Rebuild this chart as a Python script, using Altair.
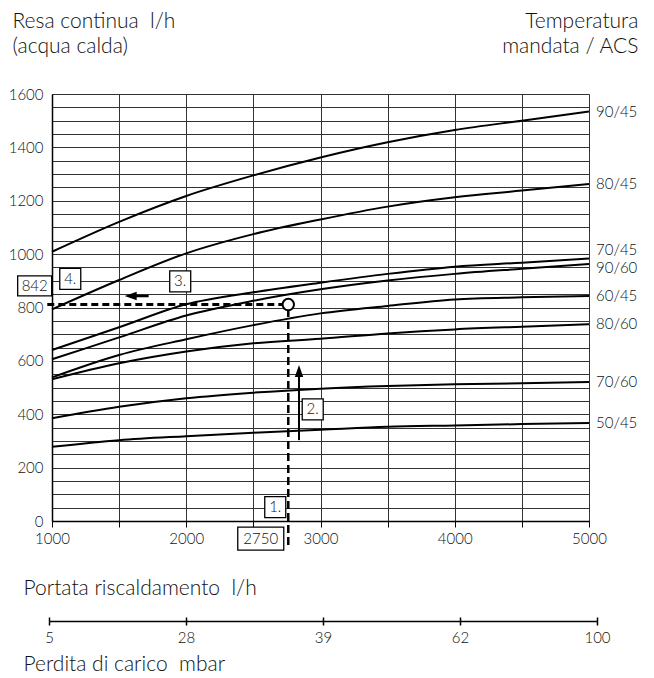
import altair as alt
import pandas as pd

# ---------------- data ----------------
flow = [1000, 1500, 2000, 2500, 3000, 3500, 4000, 4500, 5000]
series_names = ["90/45", "80/45", "70/45", "90/60", "60/45", "80/60", "70/60", "50/45"]
v_90_45 = [1009, 1121, 1218, 1295, 1362, 1419, 1465, 1500, 1534]
v_80_45 = [793, 903, 1003, 1075, 1130, 1178, 1213, 1238, 1263]
v_70_45 = [641, 726, 812, 857, 893, 926, 953, 968, 984]
v_90_60 = [606, 688, 770, 825, 868, 901, 926, 945, 963]
v_60_45 = [538, 622, 681, 734, 778, 806, 830, 838, 843]
v_80_60 = [531, 591, 635, 666, 683, 703, 718, 728, 737]
v_70_60 = [385, 428, 460, 481, 496, 506, 512, 516, 521]
v_50_45 = [278, 303, 318, 331, 342, 353, 358, 363, 367]
series_values = [v_90_45, v_80_45, v_70_45, v_90_60, v_60_45, v_80_60, v_70_60, v_50_45]

pressure_labels = ["5", "28", "39", "62", "100"]

# worked example
example_flow = 2760
example_output = 811
example_label_flow = "2750"
example_label_output = "842"
arrow_up_flow = 2840
arrow_up_from, arrow_up_to = 303, 565
arrow_up_head = 562
arrow_left_level = 843
arrow_left_head, arrow_left_end = 1586, 1720
dash_h_start = 965
dash_v_end = -90

step_labels = ["1.", "2.", "3.", "4."]
step_flow = [2663, 2942, 1955, 1136]
step_value = [52, 418, 898, 907]
box842_flow, box842_value = 871, 881
box2750_flow, box2750_value = 2555, -66

FONT = "Lato"
NB = "\u00a0"
TITLE_SIZE = 21
W = 300

rows = []
for name, vals in zip(series_names, series_values):
    for f, v in zip(flow, vals):
        rows.append({"series": name, "flow": f, "value": v})
df = pd.DataFrame(rows)
df_end = df[df["flow"] == flow[-1]]

XS = alt.Scale(domain=[1000, 5000], nice=False, zero=False)
YS = alt.Scale(domain=[0, 1600], nice=False, zero=False)


def X(field="flow", axis=None):
    return alt.X(f"{field}:Q", scale=XS, axis=axis)


def Y(field="value", axis=None):
    return alt.Y(f"{field}:Q", scale=YS, axis=axis)


x_axis = alt.Axis(
    values=flow,
    labelExpr="datum.value % 1000 === 0 ? datum.label : ''",
    format="d",
    labelFlush=False,
    labelFontSize=15,
    labelFontWeight=W,
    labelPadding=4,
    labelColor="#111",
    tickSize=6,
    tickColor="black",
    tickWidth=1,
    grid=True,
    gridColor="#333",
    gridWidth=1,
    domainColor="black",
    domainWidth=1.5,
    title="Portata riscaldamento" + " " + NB + "l/h",
    titleX=-29,
    titleY=73,
    titleAlign="left",
    titleAnchor="start",
    titleBaseline="alphabetic",
    titleFontSize=TITLE_SIZE,
    titleFontWeight=W,
    titleColor="#111",
)

y_axis = alt.Axis(
    values=list(range(0, 1601, 50)),
    labelExpr="datum.value % 200 === 0 ? datum.label : ''",
    format="d",
    labelFlush=False,
    labelFontSize=15,
    labelFontWeight=W,
    labelPadding=9,
    labelColor="#111",
    tickSize=0,
    grid=True,
    gridColor="#333",
    gridWidth=1,
    domainColor="black",
    domainWidth=1.5,
    title=["Resa continua" + " " + NB + "l/h", "(acqua calda)"],
    titleAngle=0,
    titleX=-40,
    titleY=-67,
    titleAlign="left",
    titleBaseline="alphabetic",
    titleLineHeight=25,
    titleFontSize=TITLE_SIZE,
    titleFontWeight=W,
    titleColor="#111",
)

y_axis_right = alt.Axis(
    orient="right",
    labels=False,
    ticks=False,
    domain=False,
    grid=False,
    title=["Temperatura", "mandata / ACS"],
    titleAngle=0,
    titleX=49,
    titleY=-67,
    titleAlign="right",
    titleBaseline="alphabetic",
    titleLineHeight=25,
    titleFontSize=TITLE_SIZE,
    titleFontWeight=W,
    titleColor="#111",
)

curves = alt.Chart(df).mark_line(
    interpolate="monotone", color="black", strokeWidth=2
).encode(x=X(axis=x_axis), y=Y(axis=y_axis), detail="series:N")

lab_common = dict(align="left", baseline="middle", dx=7, fontSize=15, fontWeight=W, font=FONT, color="#111")
labels_main = alt.Chart(df_end).mark_text(**lab_common).encode(
    x=X(), y=Y(axis=y_axis_right), text="series:N"
).transform_filter("datum.series !== '70/45' && datum.series !== '90/60'")
labels_up = alt.Chart(df_end).mark_text(dy=-8, **lab_common).encode(
    x=X(), y=Y(), text="series:N"
).transform_filter("datum.series === '70/45'")
labels_down = alt.Chart(df_end).mark_text(dy=4, **lab_common).encode(
    x=X(), y=Y(), text="series:N"
).transform_filter("datum.series === '90/60'")

# dashed guide lines of the worked example
dash_h = alt.Chart(pd.DataFrame({"x0": [dash_h_start], "x1": [example_flow], "y": [example_output]})).mark_rule(
    color="black", strokeWidth=3, strokeDash=[7, 4]
).encode(x=X("x0"), x2="x1:Q", y=Y("y"))
dash_v = alt.Chart(pd.DataFrame({"x": [example_flow], "y0": [dash_v_end], "y1": [example_output]})).mark_rule(
    color="black", strokeWidth=2.5, strokeDash=[8, 4]
).encode(x=X("x"), y=Y("y0"), y2="y1:Q")
circle = alt.Chart(pd.DataFrame({"x": [example_flow], "y": [example_output]})).mark_point(
    shape="circle", size=130, filled=True, fill="white", stroke="black", strokeWidth=2, opacity=1
).encode(x=X("x"), y=Y("y"))

# arrows
up_shaft = alt.Chart(pd.DataFrame({"x": [arrow_up_flow], "y0": [arrow_up_from], "y1": [arrow_up_to]})).mark_rule(
    color="black", strokeWidth=2
).encode(x=X("x"), y=Y("y0"), y2="y1:Q")
up_head = alt.Chart(pd.DataFrame({"x": [arrow_up_flow], "y": [arrow_up_head]})).mark_point(
    shape="M0,-1L0.7,1L-0.7,1Z", size=144, filled=True, color="black", opacity=1
).encode(x=X("x"), y=Y("y"))
left_shaft = alt.Chart(pd.DataFrame({"x0": [arrow_left_head], "x1": [arrow_left_end], "y": [arrow_left_level]})).mark_rule(
    color="black", strokeWidth=2.5
).encode(x=X("x0"), x2="x1:Q", y=Y("y"))
left_head = alt.Chart(pd.DataFrame({"x": [arrow_left_head], "y": [arrow_left_level]})).mark_point(
    shape="M-1,0L1,-0.7L1,0.7Z", size=144, filled=True, color="black", opacity=1
).encode(x=X("x"), y=Y("y"))

# boxed labels
txt = dict(fontSize=15, fontWeight=W, font=FONT, color="#111")
steps_df = pd.DataFrame({"label": step_labels, "x": step_flow, "y": step_value})
step_boxes = alt.Chart(steps_df).mark_point(
    shape="square", size=441, filled=True, fill="white", stroke="black", strokeWidth=1.3, opacity=1
).encode(x=X("x"), y=Y("y"))
step_text = alt.Chart(steps_df).mark_text(**txt).encode(x=X("x"), y=Y("y"), text="label:N")
b842 = pd.DataFrame({"label": [example_label_output], "x": [box842_flow], "y": [box842_value]})
box842 = alt.Chart(b842).mark_point(
    shape="M-1,-0.59H1V0.59H-1Z", size=1156, filled=True, fill="white", stroke="black", strokeWidth=1.3, opacity=1
).encode(x=X("x"), y=Y("y"))
text842 = alt.Chart(b842).mark_text(**txt).encode(x=X("x"), y=Y("y"), text="label:N")
b2750 = pd.DataFrame({"label": [example_label_flow], "x": [box2750_flow], "y": [box2750_value]})
box2750 = alt.Chart(b2750).mark_point(
    shape="M-1,-0.5H1V0.5H-1Z", size=2116, filled=True, fill="white", stroke="black", strokeWidth=1.3, opacity=1
).encode(x=X("x"), y=Y("y"))
text2750 = alt.Chart(b2750).mark_text(**txt).encode(x=X("x"), y=Y("y"), text="label:N")

inner = alt.layer(
    curves, labels_main, labels_up, labels_down,
    dash_h, dash_v, circle, up_shaft, up_head, left_shaft, left_head,
    step_boxes, step_text, box842, text842, box2750, text2750,
).resolve_axis(x="independent", y="independent")

P_SCALE = alt.Scale(type="point", range=[-3, 545], padding=0)
pdf = pd.DataFrame({"p": pressure_labels})

pressure = alt.Chart(pdf).mark_point(opacity=0).encode(
    x=alt.X(
        "p:O",
        sort=pressure_labels,
        scale=P_SCALE,
        axis=alt.Axis(
            orient="bottom",
            offset=100,
            labelAngle=0,
            labelFontSize=15,
            labelFontWeight=W,
            labelPadding=5,
            labelColor="#111",
            domainColor="black",
            domainWidth=1.5,
            tickColor="black",
            tickWidth=1.5,
            tickSize=4,
            grid=False,
            title="Perdita di carico" + " " + NB + "mbar",
            titleX=-29,
            titleY=49,
            titleAlign="left",
            titleAnchor="start",
            titleBaseline="alphabetic",
            titleFontSize=TITLE_SIZE,
            titleFontWeight=W,
            titleColor="#111",
        ),
    )
)

# upper half of the crossing ticks of the pressure scale
pressure_up = alt.Chart(pdf).mark_point(opacity=0).encode(
    x=alt.X(
        "p:O",
        sort=pressure_labels,
        scale=P_SCALE,
        axis=alt.Axis(
            orient="top",
            offset=-527,
            labels=False,
            domain=False,
            grid=False,
            tickColor="black",
            tickWidth=1.5,
            tickSize=4,
            title=None,
        ),
    )
)

chart = alt.layer(inner, pressure, pressure_up).resolve_scale(x="independent").properties(
    width=537,
    height=427,
    autosize=alt.AutoSizeParams(type="none"),
    padding={"left": 44, "top": 86, "right": 57, "bottom": 160},
).configure_view(stroke="black", strokeWidth=1.5).configure(font=FONT)

chart.save("out.html", embed_options={"renderer": "svg", "actions": False})
